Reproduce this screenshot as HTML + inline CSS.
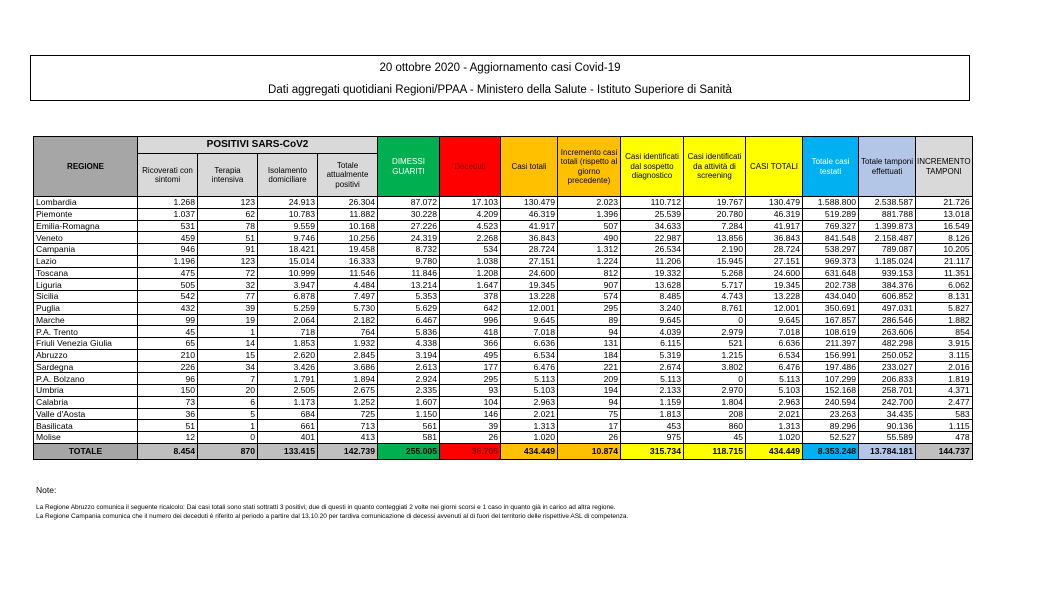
<!DOCTYPE html>
<html><head><meta charset="utf-8"><style>
body{margin:0;width:1046px;height:610px;background:#fff;font-family:"Liberation Sans",sans-serif;position:relative;overflow:hidden}
.tb{position:absolute;left:30px;top:55px;width:940px;height:46px;border:1px solid #000;box-sizing:border-box;text-align:center;font-size:11.5px;color:#000}
.tb div{position:absolute;left:0;right:0}
table{position:absolute;left:33px;top:136px;border-collapse:collapse;table-layout:fixed;font-size:8.6px}
td{border:1px solid #000;padding:0 2px;text-align:right;height:10.75px;line-height:10px;white-space:nowrap;overflow:hidden}
td:first-child{text-align:left}
th{border:1px solid #000;font-weight:normal;font-size:8px;line-height:9.5px;padding:0 1px;text-align:center;background:#d9d9d9}
.g{background:#a6a6a6}.gr{background:#00b050}.rd{background:#ff0000}.or{background:#ffc000}.ye{background:#ffff00}.bl{background:#00b0f0}.lv{background:#b4c6e7}.lg{background:#d9d9d9}
tr.t td{background:#bfbfbf;font-weight:bold;height:15px}
.note{position:absolute;left:36px;font-size:6.5px;color:#000;white-space:nowrap}
</style></head><body>
<div class="tb"><div style="top:6px">20 ottobre 2020 - Aggiornamento casi Covid-19</div><div style="top:28px">Dati aggregati quotidiani Regioni/PPAA - Ministero della Salute - Istituto Superiore di Sanità</div></div>
<table>
<colgroup><col style="width:104px"><col style="width:60px"><col style="width:60px"><col style="width:60px"><col style="width:60px"><col style="width:62px"><col style="width:61px"><col style="width:57px"><col style="width:63px"><col style="width:63px"><col style="width:62px"><col style="width:57px"><col style="width:56px"><col style="width:57px"><col style="width:56px"></colgroup>
<tr style="height:17px"><th rowspan="2" class="g" style="font-weight:bold">REGIONE</th><th colspan="4" style="font-weight:bold;font-size:10px">POSITIVI SARS-CoV2</th><th rowspan="2" class="gr" style="color:#fff">DIMESSI<br>GUARITI</th><th rowspan="2" class="rd" style="color:#800">Deceduti</th><th rowspan="2" class="or">Casi totali</th><th rowspan="2" class="or">Incremento casi totali (rispetto al giorno precedente)</th><th rowspan="2" class="ye">Casi identificati dal sospetto diagnostico</th><th rowspan="2" class="ye">Casi identificati da attività di screening</th><th rowspan="2" class="ye">CASI TOTALI</th><th rowspan="2" class="bl" style="color:#fff">Totale casi testati</th><th rowspan="2" class="lv">Totale tamponi effettuati</th><th rowspan="2" class="lg">INCREMENTO TAMPONI</th></tr>
<tr style="height:43px"><th>Ricoverati con sintomi</th><th>Terapia intensiva</th><th>Isolamento domiciliare</th><th>Totale attualmente positivi</th></tr>
<tr><td>Lombardia</td><td>1.268</td><td>123</td><td>24.913</td><td>26.304</td><td>87.072</td><td>17.103</td><td>130.479</td><td>2.023</td><td>110.712</td><td>19.767</td><td>130.479</td><td>1.588.800</td><td>2.538.587</td><td>21.726</td></tr>
<tr><td>Piemonte</td><td>1.037</td><td>62</td><td>10.783</td><td>11.882</td><td>30.228</td><td>4.209</td><td>46.319</td><td>1.396</td><td>25.539</td><td>20.780</td><td>46.319</td><td>519.289</td><td>881.788</td><td>13.018</td></tr>
<tr><td>Emilia-Romagna</td><td>531</td><td>78</td><td>9.559</td><td>10.168</td><td>27.226</td><td>4.523</td><td>41.917</td><td>507</td><td>34.633</td><td>7.284</td><td>41.917</td><td>769.327</td><td>1.399.873</td><td>16.549</td></tr>
<tr><td>Veneto</td><td>459</td><td>51</td><td>9.746</td><td>10.256</td><td>24.319</td><td>2.268</td><td>36.843</td><td>490</td><td>22.987</td><td>13.856</td><td>36.843</td><td>841.548</td><td>2.158.487</td><td>8.126</td></tr>
<tr><td>Campania</td><td>946</td><td>91</td><td>18.421</td><td>19.458</td><td>8.732</td><td>534</td><td>28.724</td><td>1.312</td><td>26.534</td><td>2.190</td><td>28.724</td><td>538.297</td><td>789.087</td><td>10.205</td></tr>
<tr><td>Lazio</td><td>1.196</td><td>123</td><td>15.014</td><td>16.333</td><td>9.780</td><td>1.038</td><td>27.151</td><td>1.224</td><td>11.206</td><td>15.945</td><td>27.151</td><td>969.373</td><td>1.185.024</td><td>21.117</td></tr>
<tr><td>Toscana</td><td>475</td><td>72</td><td>10.999</td><td>11.546</td><td>11.846</td><td>1.208</td><td>24.600</td><td>812</td><td>19.332</td><td>5.268</td><td>24.600</td><td>631.648</td><td>939.153</td><td>11.351</td></tr>
<tr><td>Liguria</td><td>505</td><td>32</td><td>3.947</td><td>4.484</td><td>13.214</td><td>1.647</td><td>19.345</td><td>907</td><td>13.628</td><td>5.717</td><td>19.345</td><td>202.738</td><td>384.376</td><td>6.062</td></tr>
<tr><td>Sicilia</td><td>542</td><td>77</td><td>6.878</td><td>7.497</td><td>5.353</td><td>378</td><td>13.228</td><td>574</td><td>8.485</td><td>4.743</td><td>13.228</td><td>434.040</td><td>606.852</td><td>8.131</td></tr>
<tr><td>Puglia</td><td>432</td><td>39</td><td>5.259</td><td>5.730</td><td>5.629</td><td>642</td><td>12.001</td><td>295</td><td>3.240</td><td>8.761</td><td>12.001</td><td>350.691</td><td>497.031</td><td>5.827</td></tr>
<tr><td>Marche</td><td>99</td><td>19</td><td>2.064</td><td>2.182</td><td>6.467</td><td>996</td><td>9.645</td><td>89</td><td>9.645</td><td>0</td><td>9.645</td><td>167.857</td><td>286.546</td><td>1.882</td></tr>
<tr><td>P.A. Trento</td><td>45</td><td>1</td><td>718</td><td>764</td><td>5.836</td><td>418</td><td>7.018</td><td>94</td><td>4.039</td><td>2.979</td><td>7.018</td><td>108.619</td><td>263.606</td><td>854</td></tr>
<tr><td>Friuli Venezia Giulia</td><td>65</td><td>14</td><td>1.853</td><td>1.932</td><td>4.338</td><td>366</td><td>6.636</td><td>131</td><td>6.115</td><td>521</td><td>6.636</td><td>211.397</td><td>482.298</td><td>3.915</td></tr>
<tr><td>Abruzzo</td><td>210</td><td>15</td><td>2.620</td><td>2.845</td><td>3.194</td><td>495</td><td>6.534</td><td>184</td><td>5.319</td><td>1.215</td><td>6.534</td><td>156.991</td><td>250.052</td><td>3.115</td></tr>
<tr><td>Sardegna</td><td>226</td><td>34</td><td>3.426</td><td>3.686</td><td>2.613</td><td>177</td><td>6.476</td><td>221</td><td>2.674</td><td>3.802</td><td>6.476</td><td>197.486</td><td>233.027</td><td>2.016</td></tr>
<tr><td>P.A. Bolzano</td><td>96</td><td>7</td><td>1.791</td><td>1.894</td><td>2.924</td><td>295</td><td>5.113</td><td>209</td><td>5.113</td><td>0</td><td>5.113</td><td>107.299</td><td>206.833</td><td>1.819</td></tr>
<tr><td>Umbria</td><td>150</td><td>20</td><td>2.505</td><td>2.675</td><td>2.335</td><td>93</td><td>5.103</td><td>194</td><td>2.133</td><td>2.970</td><td>5.103</td><td>152.168</td><td>258.701</td><td>4.371</td></tr>
<tr><td>Calabria</td><td>73</td><td>6</td><td>1.173</td><td>1.252</td><td>1.607</td><td>104</td><td>2.963</td><td>94</td><td>1.159</td><td>1.804</td><td>2.963</td><td>240.594</td><td>242.700</td><td>2.477</td></tr>
<tr><td>Valle d'Aosta</td><td>36</td><td>5</td><td>684</td><td>725</td><td>1.150</td><td>146</td><td>2.021</td><td>75</td><td>1.813</td><td>208</td><td>2.021</td><td>23.263</td><td>34.435</td><td>583</td></tr>
<tr><td>Basilicata</td><td>51</td><td>1</td><td>661</td><td>713</td><td>561</td><td>39</td><td>1.313</td><td>17</td><td>453</td><td>860</td><td>1.313</td><td>89.296</td><td>90.136</td><td>1.115</td></tr>
<tr><td>Molise</td><td>12</td><td>0</td><td>401</td><td>413</td><td>581</td><td>26</td><td>1.020</td><td>26</td><td>975</td><td>45</td><td>1.020</td><td>52.527</td><td>55.589</td><td>478</td></tr>
<tr class="t"><td style="text-align:center;background:#a6a6a6">TOTALE</td><td>8.454</td><td>870</td><td>133.415</td><td>142.739</td><td style="background:#00b050">255.005</td><td style="background:#ff0000;color:#800">36.705</td><td style="background:#ffc000">434.449</td><td style="background:#ffc000">10.874</td><td style="background:#ffff00">315.734</td><td style="background:#ffff00">118.715</td><td style="background:#ffff00">434.449</td><td style="background:#00b0f0">8.353.248</td><td style="background:#b4c6e7">13.784.181</td><td>144.737</td></tr>
</table>
<div class="note" style="top:485px;font-size:8.5px">Note:</div>
<div class="note" style="top:504px">La Regione Abruzzo comunica il seguente ricalcolo: Dai casi totali sono stati sottratti 3 positivi; due di questi in quanto conteggiati 2 volte nei giorni scorsi e 1 caso in quanto già in carico ad altra regione.</div>
<div class="note" style="top:513px">La Regione Campania comunica che il numero dei deceduti è riferito al periodo a partire dal 13.10.20 per tardiva comunicazione di decessi avvenuti al di fuori del territorio delle rispettive ASL di competenza.</div>
</body></html>
